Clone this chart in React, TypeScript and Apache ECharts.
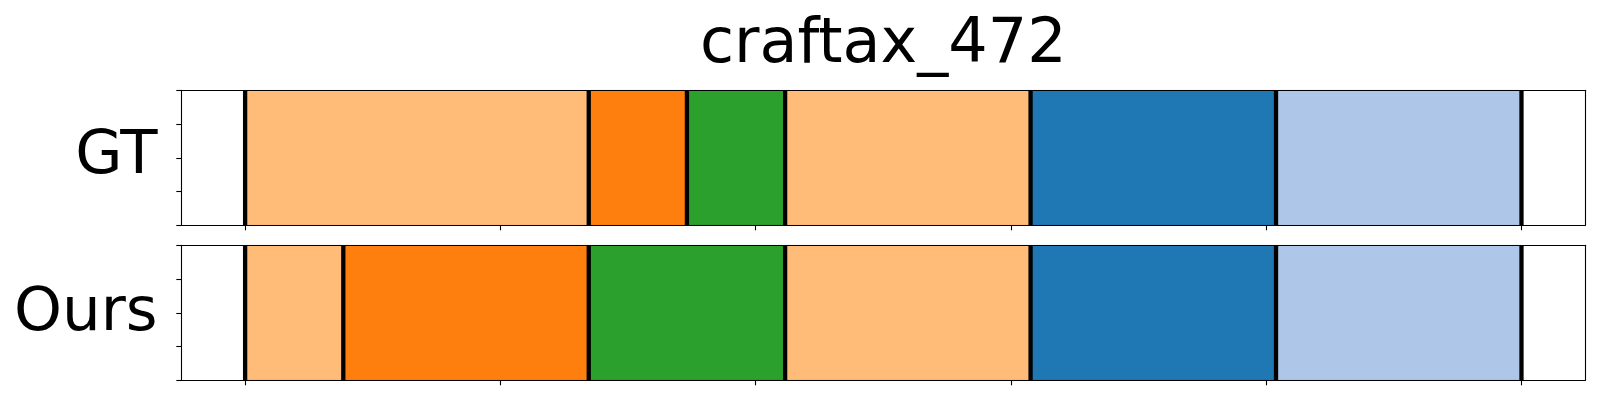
import React, { useEffect, useRef } from "react";
import * as echarts from "echarts";

// ---- data ----
const titleText = "craftax_472";
const rowLabels = ["GT", "Ours"];
const totalFrames = 26;
// segment lengths (frames) and class ids for each row
const gtLengths = [7, 2, 2, 5, 5, 5];
const gtClasses = [3, 2, 4, 3, 0, 1];
const oursLengths = [2, 5, 4, 5, 5, 5];
const oursClasses = [3, 2, 4, 3, 0, 1];
const xTicks = [0, 0.2, 0.4, 0.6, 0.8, 1.0];
// tab20 palette (first entries)
const palette = ["#1f77b4", "#aec7e8", "#ff7f0e", "#ffbb78", "#2ca02c"];

function buildSegments(lengths: number[], classes: number[]) {
  const segs: { value: number[]; color: string }[] = [];
  const bounds: number[] = [0];
  let acc = 0;
  lengths.forEach((len, i) => {
    const s = acc / totalFrames;
    acc += len;
    const e = acc / totalFrames;
    segs.push({ value: [s, e], color: palette[classes[i]] });
    bounds.push(e);
  });
  return { segs, bounds };
}

export default function App() {
  const ref = useRef<HTMLDivElement>(null);
  useEffect(() => {
    if (!ref.current) return;
    const chart = echarts.init(ref.current, null, { renderer: "svg" });
    const rows = [buildSegments(gtLengths, gtClasses), buildSegments(oursLengths, oursClasses)];
    const gridTops = [90.3, 245.3];
    const gridH = 135;
    const left = 181.3;
    const width = 1404;

    const xAxis: any[] = [];
    const yAxis: any[] = [];
    const series: any[] = [];
    rows.forEach((row, gi) => {
      xAxis.push({
        type: "value", gridIndex: gi, min: -0.05, max: 1.05, position: "bottom", z: 10,
        axisLine: { show: true, onZero: false, lineStyle: { color: "#000", width: 1.1 } },
        axisTick: { show: true, inside: false, length: 5, customValues: xTicks, lineStyle: { color: "#000", width: 1.1 } },
        axisLabel: { show: false }, splitLine: { show: false },
      });
      xAxis.push({
        type: "value", gridIndex: gi, min: -0.05, max: 1.05, position: "top", z: 10,
        axisLine: { show: true, onZero: false, lineStyle: { color: "#000", width: 1.1 } },
        axisTick: { show: false }, axisLabel: { show: false }, splitLine: { show: false },
      });
      yAxis.push({
        type: "value", gridIndex: gi, min: 0, max: 1, interval: 0.25, position: "left", z: 10,
        axisLine: { show: true, onZero: false, lineStyle: { color: "#000", width: 1.1 } },
        axisTick: { show: true, inside: false, length: 5, lineStyle: { color: "#000", width: 1.1 } },
        axisLabel: { show: false }, splitLine: { show: false },
      });
      yAxis.push({
        type: "value", gridIndex: gi, min: 0, max: 1, position: "right", z: 10,
        axisLine: { show: true, onZero: false, lineStyle: { color: "#000", width: 1.1 } },
        axisTick: { show: false }, axisLabel: { show: false }, splitLine: { show: false },
      });
      const xi = gi * 2;
      const yi = gi * 2;
      series.push({
        type: "custom", xAxisIndex: xi, yAxisIndex: yi, z: 1, clip: false,
        encode: { x: [0, 1] },
        data: row.segs.map((s) => ({ value: s.value, itemStyle: { color: s.color } })),
        renderItem: (params: any, api: any) => {
          const p0 = api.coord([api.value(0), 1]);
          const p1 = api.coord([api.value(1), 0]);
          return {
            type: "rect",
            shape: { x: p0[0], y: p0[1], width: p1[0] - p0[0], height: p1[1] - p0[1] },
            style: { fill: row.segs[params.dataIndex].color, stroke: "rgba(0,0,0,0.15)", lineWidth: 1 },
          };
        },
      });
      series.push({
        type: "custom", xAxisIndex: xi, yAxisIndex: yi, z: 2, clip: false,
        encode: { x: 0 },
        data: row.bounds.map((b) => [b]),
        renderItem: (params: any, api: any) => {
          const top = api.coord([api.value(0), 1]);
          const bot = api.coord([api.value(0), 0]);
          return {
            type: "line",
            shape: { x1: top[0], y1: top[1], x2: bot[0], y2: bot[1] },
            style: { stroke: "#000", lineWidth: 4.3 },
          };
        },
      });
    });

    chart.setOption({
      animation: false,
      backgroundColor: "#fff",
      grid: gridTops.map((t) => ({ left, top: t, width, height: gridH, containLabel: false })),
      xAxis,
      yAxis,
      series,
      graphic: [
        {
          type: "text", x: left + width / 2, y: 40.5, z: 20,
          style: { text: titleText, fontSize: 62, fontFamily: "DejaVu Sans", fill: "#000", align: "center", verticalAlign: "middle" },
        },
        ...rowLabels.map((lab, i) => ({
          type: "text", x: 157.5, y: [151.8, 308.8][i], z: 20,
          style: { text: lab, fontSize: 61, fontFamily: "DejaVu Sans", fill: "#000", align: "right", verticalAlign: "middle" },
        })),
      ],
    });
    return () => chart.dispose();
  }, []);
  return <div ref={ref} style={{ position: "absolute", left: 0, top: 0, width: 1600, height: 400 }} />;
}
